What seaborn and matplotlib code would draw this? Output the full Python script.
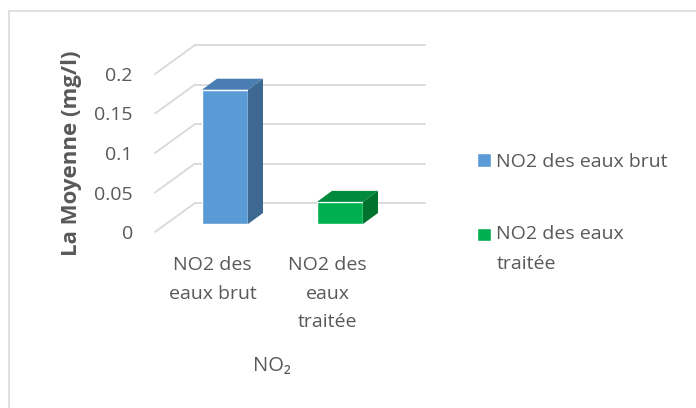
import matplotlib
matplotlib.use("Agg")
import matplotlib.pyplot as plt
import matplotlib.transforms as mtransforms
from matplotlib.patches import Polygon, Rectangle
import pandas as pd
import seaborn as sns

# data
categories = ["NO2 des\neaux brut", "NO2 des\neaux\ntraitée"]
values = [0.17, 0.028]
legend_labels = ["NO2 des eaux brut", "NO2 des eaux\ntraitée"]
y_ticks = [0, 0.05, 0.1, 0.15, 0.2]
y_tick_labels = ["0", "0.05", "0.1", "0.15", "0.2"]
y_title = "La Moyenne (mg/l)"
x_title = "NO₂"

front_colors = ["#5B9BD5", "#00B050"]
top_colors = ["#4A7EB2", "#008A3E"]
side_colors = ["#3D6891", "#00742F"]
TEXT = "#595959"
GRID = "#D9D9D9"

W, H = 696, 408
# fake 3d depth, in pixels
WALL_DX, WALL_DY = 40, 29      # back wall offset from front plane
BAR_DX, BAR_DY = 12.5, 8       # bar front face offset
DEPTH_DX, DEPTH_DY = 15, 11    # bar depth


def fig_x(px):
    return px / W


def fig_y(px):
    return 1 - px / H


def main():
    sns.set_theme(style="white")
    plt.rcParams["font.family"] = ["Open Sans", "DejaVu Sans"]

    fig = plt.figure(figsize=(W / 100, H / 100), dpi=100)
    left, right, top, bottom = 155, 385, 74, 232
    ax = fig.add_axes([fig_x(left), fig_y(bottom), (right - left) / W, (bottom - top) / H])

    df = pd.DataFrame({"cat": categories, "val": values})
    sns.barplot(
        data=df, x="cat", y="val", hue="cat",
        palette=front_colors, width=0.4, saturation=1,
        legend=False, ax=ax, zorder=3,
    )
    ax.set_xlim(-0.5, len(categories) - 0.5)
    ax.set_ylim(y_ticks[0], y_ticks[-1])

    # pixel -> data scale
    ux = (right - left) / (len(categories))
    uy = (bottom - top) / (y_ticks[-1] - y_ticks[0])
    wdx, wdy = WALL_DX / ux, WALL_DY / uy
    ddx, ddy = DEPTH_DX / ux, DEPTH_DY / uy

    # back wall gridlines + side wall diagonals
    x0, x1 = ax.get_xlim()
    for t in y_ticks:
        ax.add_line(plt.Line2D([x0 + wdx, x1 + wdx], [t + wdy, t + wdy],
                               color=GRID, lw=1.3, zorder=0, clip_on=False))
        ax.add_line(plt.Line2D([x0, x0 + wdx], [t, t + wdy],
                               color=GRID, lw=1.3, zorder=0, clip_on=False))

    # push bars back a bit and give them a top and a side
    bar_trans = mtransforms.offset_copy(ax.transData, fig=fig, x=BAR_DX, y=BAR_DY, units="dots")
    bars = list(ax.patches)
    for bar, top_c, side_c in zip(bars, top_colors, side_colors):
        bar.set_transform(bar_trans)
        bar.set_clip_on(False)
        bx, by = bar.get_x(), bar.get_y()
        bw, bh = bar.get_width(), bar.get_height()
        top_face = Polygon(
            [(bx, by + bh), (bx + bw, by + bh), (bx + bw + ddx, by + bh + ddy), (bx + ddx, by + bh + ddy)],
            closed=True, facecolor=top_c, edgecolor="none", transform=bar_trans, clip_on=False, zorder=3,
        )
        side_face = Polygon(
            [(bx + bw, by), (bx + bw, by + bh), (bx + bw + ddx, by + bh + ddy), (bx + bw + ddx, by + ddy)],
            closed=True, facecolor=side_c, edgecolor="none", transform=bar_trans, clip_on=False, zorder=3,
        )
        ax.add_patch(top_face)
        ax.add_patch(side_face)

    sns.despine(ax=ax, left=True, bottom=True)
    ax.set_facecolor("none")
    ax.grid(False)

    ax.set_yticks(y_ticks)
    ax.set_yticklabels(y_tick_labels)
    ax.set_xticks(range(len(categories)))
    ax.set_xticklabels(categories, linespacing=1.78)
    ax.tick_params(axis="y", length=0, pad=16, labelsize=14, labelcolor=TEXT)
    ax.tick_params(axis="x", length=0, pad=17, labelsize=14, labelcolor=TEXT)

    ax.set_ylabel(y_title, fontsize=16, fontweight="bold", color=TEXT, va="center")
    ax.yaxis.set_label_coords((71 - left) / (right - left), 0.5)
    ax.set_xlabel(x_title, fontsize=14.5, color=TEXT, va="center")
    ax.xaxis.set_label_coords(0.5 + 2 / (right - left), (bottom - 366) / (bottom - top))

    leg = ax.legend(
        bars, legend_labels,
        loc="upper left", bbox_to_anchor=(fig_x(477), fig_y(153)), bbox_transform=fig.transFigure,
        frameon=False, fontsize=14, labelcolor=TEXT,
        handlelength=0.7, handleheight=0.7, handletextpad=0.3,
        labelspacing=2.8, borderpad=0, borderaxespad=0,
    )
    for txt in leg.get_texts():
        txt.set_linespacing(1.8)
    # line the green square up with the first line of its label
    h2 = leg.legend_handles[1]
    h2.set_y(h2.get_y() + 10.5)

    # chart area border
    fig.add_artist(Rectangle((fig_x(9), -0.1), 1.0, fig_y(11) + 0.1, transform=fig.transFigure,
                             facecolor="none", edgecolor=GRID, lw=1.2))

    fig.savefig("out.png", dpi=100)


if __name__ == "__main__":
    main()
